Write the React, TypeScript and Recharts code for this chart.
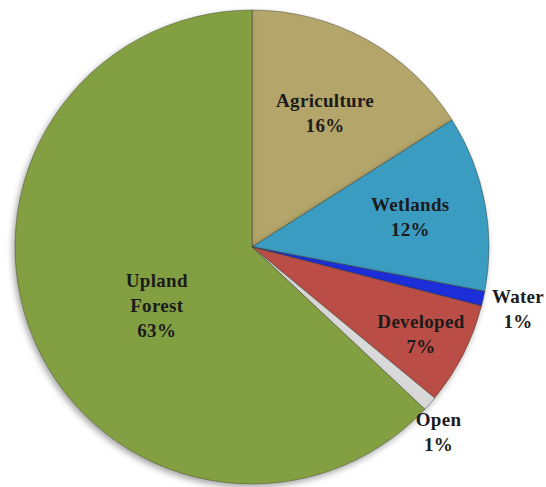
import { PieChart, Pie, Cell } from "recharts";

const categories = ["Agriculture", "Wetlands", "Water", "Developed", "Open", "Upland Forest"];
const shares = [16, 12, 1, 7, 1, 63];
const colors = ["#B4A56B", "#3A9CC2", "#1A2ED8", "#BB4D47", "#D9D9D9", "#82A043"];

// label placement: radius as a fraction of the outer radius, plus a small nudge
const labelPlace: Record<string, { r: number; dx: number; dy: number; lines: string[] }> = {
  Agriculture: { r: 0.64, dx: 0, dy: -2, lines: ["Agriculture"] },
  Wetlands: { r: 0.68, dx: 0, dy: 0, lines: ["Wetlands"] },
  Water: { r: 1.15, dx: 0, dy: 2, lines: ["Water"] },
  Developed: { r: 0.8, dx: 0, dy: 0, lines: ["Developed"] },
  Open: { r: 1.1, dx: -9, dy: 12, lines: ["Open"] },
  "Upland Forest": { r: 0.47, dx: 7, dy: 14, lines: ["Upland", "Forest"] },
};

const data = categories.map((name, i) => ({ name, value: shares[i] }));

const RAD = Math.PI / 180;

function renderLabel(props: any) {
  const { cx, cy, midAngle, outerRadius, name, value } = props;
  const place = labelPlace[name];
  const r = outerRadius * place.r;
  const x = cx + r * Math.cos(-midAngle * RAD) + place.dx;
  const y = cy + r * Math.sin(-midAngle * RAD) + place.dy;
  const lines = [...place.lines, `${value}%`];
  const lh = 25;
  const top = y - ((lines.length - 1) * lh) / 2;
  return (
    <text
      x={x}
      y={top}
      textAnchor="middle"
      dominantBaseline="central"
      fill="#1b1b1b"
      style={{
        fontFamily: "'Liberation Serif', 'Times New Roman', serif",
        fontWeight: 700,
        fontSize: 19,
        letterSpacing: 0.3,
      }}
    >
      {lines.map((t, i) => (
        <tspan key={i} x={x} dy={i === 0 ? 0 : lh}>
          {t}
        </tspan>
      ))}
    </text>
  );
}

export default function App() {
  return (
    <div style={{ position: "absolute", left: 0, top: 0, width: 546, height: 487, background: "#fff" }}>
      <PieChart width={546} height={487} margin={{ top: 0, right: 0, bottom: 0, left: 0 }}>
        <defs>
          <filter id="pieShadow" x="-10%" y="-10%" width="120%" height="120%">
            <feDropShadow dx="-2" dy="3" stdDeviation="3" floodColor="#000" floodOpacity="0.35" />
          </filter>
        </defs>
        <Pie
          data={data}
          dataKey="value"
          nameKey="name"
          cx={252}
          cy={247}
          outerRadius={237}
          startAngle={90}
          endAngle={-270}
          labelLine={false}
          label={renderLabel}
          stroke="rgba(60,60,40,0.45)"
          strokeWidth={1}
          isAnimationActive={false}
          style={{ filter: "url(#pieShadow)" }}
        >
          {data.map((d, i) => (
            <Cell key={d.name} fill={colors[i]} />
          ))}
        </Pie>
      </PieChart>
    </div>
  );
}
